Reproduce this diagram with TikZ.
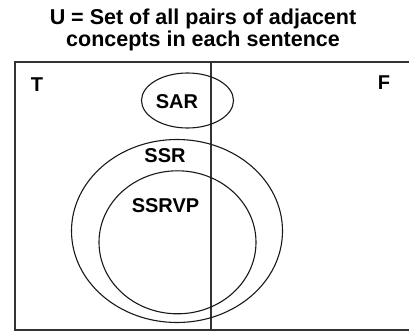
\documentclass[tikz,border=0pt]{standalone}
\usepackage{fontspec}
\setmainfont{Liberation Sans}
\usetikzlibrary{shapes.geometric}
\begin{document}
\begin{tikzpicture}[x=1pt,y=-1pt,
  frame/.style={draw=black!80,line width=2pt},
  setring/.style={ellipse,draw=black!90,line width=1.1pt,inner sep=0pt},
  lbl/.style={font=\fontsize{20}{24}\selectfont\bfseries,text=black,inner sep=0pt},
  heading/.style={font=\fontsize{21.5}{22}\selectfont\bfseries,text=black,align=center,inner sep=0pt}]
  \useasboundingbox (0,0) rectangle (409,331);
  % heading
  \node[heading] (title) at (203,30) {U = Set of all pairs of adjacent\\concepts in each sentence};
  % universe frame (open to the right edge)
  \draw[frame] (413,62) -- (15,62) -- (15,330) -- (413,330);
  % T / F divider
  \coordinate (dtop) at (210.7,62);
  \coordinate (dbot) at (210.7,330);
  \draw[frame,line width=1.8pt] (dtop) -- (dbot);
  \node[lbl] (t) at (37,85) {T};
  \node[lbl] (f) at (384,83) {F};
  % sets
  \node[setring,minimum width=92pt,minimum height=55pt] (sar) at (187.5,100.5) {};
  \node[setring,minimum width=211pt,minimum height=183pt] (ssr) at (177,231) {};
  \node[setring,minimum width=157pt,minimum height=143pt] (ssrvp) at (177.5,242.3) {};
  \node[lbl] (sarl) at (177,101.5) {SAR};
  \node[lbl] (ssrl) at (165,155.5) {SSR};
  \node[lbl] (ssrvpl) at (165.5,206) {SSRVP};
\end{tikzpicture}
\end{document}
